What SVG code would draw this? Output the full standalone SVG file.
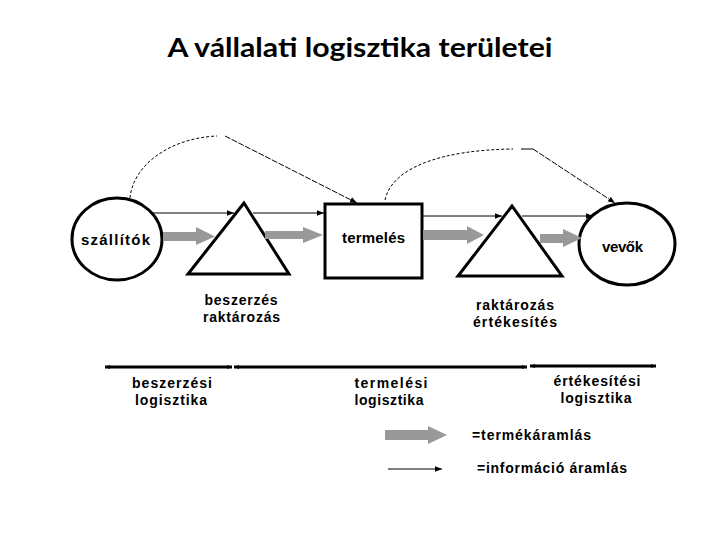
<svg xmlns="http://www.w3.org/2000/svg" width="720" height="540" viewBox="0 0 720 540">
<defs>
<marker id="ah" viewBox="0 0 10 10" refX="10" refY="5" markerWidth="7" markerHeight="7" markerUnits="userSpaceOnUse" orient="auto">
<path d="M0,1 L10,5 L0,9 Z" fill="#000"/>
</marker>
<marker id="dh" viewBox="0 0 10 10" refX="10" refY="5" markerWidth="6" markerHeight="5" markerUnits="userSpaceOnUse" orient="auto-start-reverse">
<path d="M0,1 L10,5 L0,9 Z" fill="#000"/>
</marker>
</defs>
<style>
.shape{fill:#fff;stroke:#000;stroke-width:3}
.lbl{font-family:"Liberation Sans",Arial,sans-serif;font-weight:bold;font-size:15px;fill:#000}
.sm{font-size:14px}
.title{font-family:Lato,"Open Sans",sans-serif;font-weight:bold;font-size:27px;fill:#000}
.flow{fill:#999;stroke:none}
.info{fill:none;stroke:#000;stroke-width:1;marker-end:url(#ah)}
.dash{fill:none;stroke:#000;stroke-width:1;stroke-dasharray:3 2}
.span{fill:none;stroke:#000;stroke-width:3;marker-start:url(#dh);marker-end:url(#dh)}
</style>
<rect width="720" height="540" fill="#fff"/>
<text class="title" x="360" y="57" text-anchor="middle" textLength="385" lengthAdjust="spacingAndGlyphs">A vállalati logisztika területei</text>

<g id="szallitok">
<ellipse class="shape" cx="117" cy="239" rx="45" ry="41"/>
<text class="lbl" x="81" y="245" textLength="69" lengthAdjust="spacing">szállítók</text>
</g>
<g id="beszerzes-raktar">
<polygon class="shape" points="244,203 188,274 289,274"/>
<text class="lbl sm" x="241" y="305" text-anchor="middle" textLength="73" lengthAdjust="spacing">beszerzés</text>
<text class="lbl sm" x="241.5" y="322" text-anchor="middle" textLength="77" lengthAdjust="spacing">raktározás</text>
</g>
<g id="termeles">
<rect class="shape" x="325" y="204" width="97" height="74"/>
<text class="lbl" x="342" y="243" textLength="63" lengthAdjust="spacing">termelés</text>
</g>
<g id="raktar-ertekesites">
<polygon class="shape" points="512,206 458,276 562,276"/>
<text class="lbl sm" x="515" y="310" text-anchor="middle" textLength="78" lengthAdjust="spacing">raktározás</text>
<text class="lbl sm" x="515" y="327" text-anchor="middle" textLength="84" lengthAdjust="spacing">értékesítés</text>
</g>
<g id="vevok">
<ellipse class="shape" cx="627" cy="244" rx="48" ry="41"/>
<text class="lbl" x="602" y="252" textLength="41" lengthAdjust="spacing">vevők</text>
</g>

<g id="connectors">
<polygon class="flow" points="163,232 196,232 196,227 215,236.5 196,245 196,241 163,241"/>
<polygon class="flow" points="265,231 303,231 303,227 323,235 303,243 303,239 265,239"/>
<polygon class="flow" points="423,230 467,230 467,226 484,235 467,244 467,240 423,240"/>
<polygon class="flow" points="540,234 563,234 563,229 582,238 563,247 563,243 540,243"/>

<line class="info" x1="153" y1="213" x2="234" y2="213"/>
<line class="info" x1="253" y1="213" x2="324" y2="213"/>
<line class="info" x1="423" y1="216" x2="502" y2="216"/>
<line class="info" x1="522" y1="216" x2="593" y2="216"/>

<path class="dash" d="M130,198 C133,165 170,138 217,136"/>
<line class="info" x1="225" y1="136" x2="357" y2="203" stroke-dasharray="6 1.5"/>
<path class="dash" d="M385,200 C392,168 440,150 513,149"/>
<line x1="521" y1="149" x2="533" y2="149" stroke="#000" stroke-width="1"/>
<line class="info" x1="533" y1="149" x2="615" y2="203" stroke-dasharray="6 1.5"/>

<line class="span" x1="105" y1="367" x2="232" y2="367"/>
<line class="span" x1="234" y1="367" x2="527" y2="367"/>
<line class="span" x1="530" y1="366" x2="656" y2="366"/>
</g>

<g id="areas">
<text class="lbl sm" x="172" y="388" text-anchor="middle" textLength="80" lengthAdjust="spacing">beszerzési</text>
<text class="lbl sm" x="171" y="405" text-anchor="middle" textLength="72" lengthAdjust="spacing">logisztika</text>
<text class="lbl sm" x="391" y="388" text-anchor="middle" textLength="73" lengthAdjust="spacing">termelési</text>
<text class="lbl sm" x="389" y="405" text-anchor="middle" textLength="69" lengthAdjust="spacing">logisztika</text>
<text class="lbl sm" x="597" y="386" text-anchor="middle" textLength="87" lengthAdjust="spacing">értékesítési</text>
<text class="lbl sm" x="596" y="403" text-anchor="middle" textLength="71" lengthAdjust="spacing">logisztika</text>
</g>

<g id="legend">
<polygon class="flow" points="385,430 428,430 428,426 447,435 428,444 428,440 385,440"/>
<text class="lbl sm" x="472" y="440" textLength="119" lengthAdjust="spacing">=termékáramlás</text>
<line class="info" x1="388" y1="469" x2="442" y2="469"/>
<text class="lbl sm" x="477" y="473" textLength="150" lengthAdjust="spacing">=információ áramlás</text>
</g>
</svg>
